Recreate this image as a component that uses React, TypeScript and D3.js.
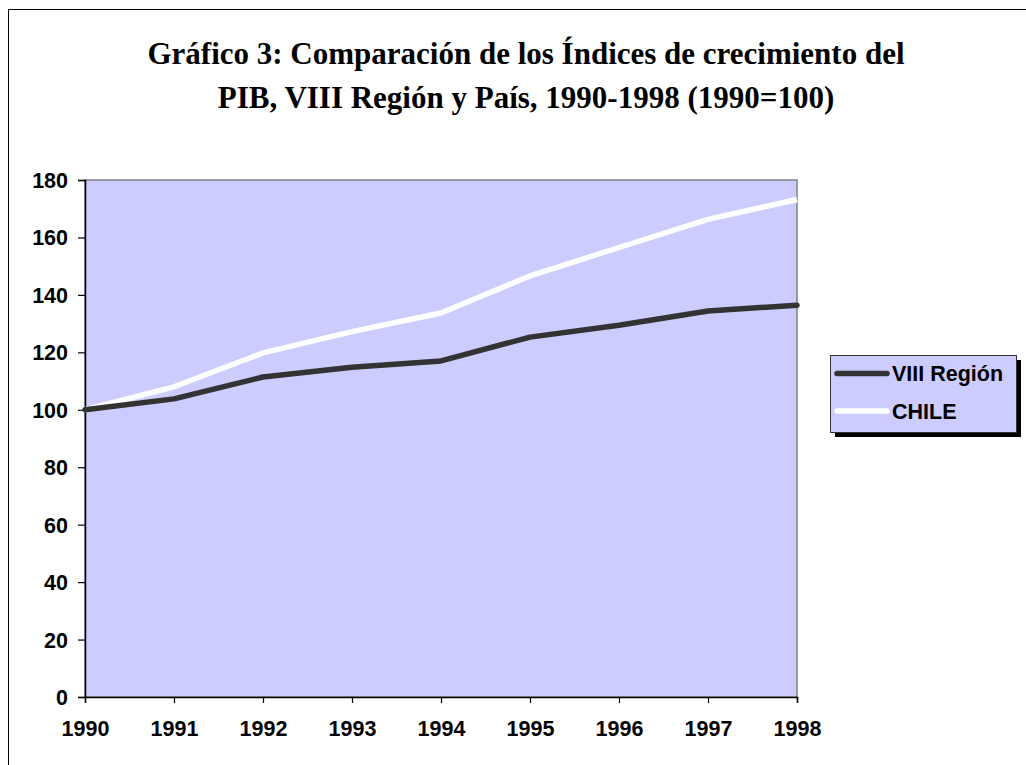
import React, { useRef, useEffect } from 'react';
import * as d3 from 'd3';

const years = [1990, 1991, 1992, 1993, 1994, 1995, 1996, 1997, 1998];
const regionValues = [100, 103.8, 111.4, 114.8, 117.0, 125.3, 129.4, 134.4, 136.4];
const chileValues = [100, 108.0, 119.8, 127.2, 133.7, 146.6, 156.5, 166.3, 173.2];
const yTicks = [0, 20, 40, 60, 80, 100, 120, 140, 160, 180];
const titleLines = [
  'Gráfico 3: Comparación de los Índices de crecimiento del',
  'PIB, VIII Región y País, 1990-1998 (1990=100)'
];
const seriesNames = ['VIII Región', 'CHILE'];
const seriesColors = ['#333333', '#ffffff'];

const draw = (svgRef) => {
  const svg = d3.select(svgRef.current);
  svg.selectAll('*').remove();

  const left = 85;
  const right = 797;
  const top = 180;
  const bottom = 697;
  const axisFont = 'Liberation Sans, Arial, sans-serif';
  const axisSize = 21.5;

  // outer frame of the chart object
  svg
    .append('rect')
    .attr('x', 8.5)
    .attr('y', 9.5)
    .attr('width', 1030)
    .attr('height', 780)
    .attr('fill', '#fff')
    .attr('stroke', '#000')
    .attr('stroke-width', 1);

  const title = svg
    .append('text')
    .attr('text-anchor', 'middle')
    .attr('font-family', 'Liberation Serif, Times New Roman, serif')
    .attr('font-weight', 'bold')
    .attr('font-size', 31)
    .attr('fill', '#000');
  titleLines.forEach((line, i) => {
    title
      .append('tspan')
      .attr('x', 526)
      .attr('y', 64 + i * 44)
      .text(line);
  });

  const x = d3.scalePoint().domain(years).range([left, right]);
  const y = d3.scaleLinear().domain([0, 180]).range([bottom, top]);

  svg
    .append('rect')
    .attr('x', left)
    .attr('y', top)
    .attr('width', right - left)
    .attr('height', bottom - top)
    .attr('fill', '#ccccff')
    .attr('stroke', '#808080')
    .attr('stroke-width', 1.5);

  const yAxis = svg
    .append('g')
    .attr('transform', `translate(${left},0)`)
    .call(d3.axisLeft(y).tickValues(yTicks).tickSize(7).tickPadding(10));
  const xAxis = svg
    .append('g')
    .attr('transform', `translate(0,${bottom})`)
    .call(d3.axisBottom(x).tickSize(6).tickPadding(18));

  [yAxis, xAxis].forEach((ax) => {
    ax.select('.domain').attr('stroke', '#000').attr('stroke-width', 1.5);
    ax.selectAll('.tick line').attr('stroke', '#000').attr('stroke-width', 1.2);
    ax.selectAll('.tick text')
      .attr('font-family', axisFont)
      .attr('font-weight', 'bold')
      .attr('font-size', axisSize)
      .attr('fill', '#000');
  });
  yAxis.selectAll('.tick text').attr('dy', '0.35em');
  xAxis.selectAll('.tick text').attr('dy', '0.71em');

  const line = d3
    .line()
    .x((d, i) => x(years[i]))
    .y((d) => y(d));

  [chileValues, regionValues].forEach((vals, k) => {
    const idx = k === 0 ? 1 : 0;
    svg
      .append('path')
      .datum(vals)
      .attr('d', line)
      .attr('fill', 'none')
      .attr('stroke', seriesColors[idx])
      .attr('stroke-width', 5.5)
      .attr('stroke-linejoin', 'round')
      .attr('stroke-linecap', idx === 0 ? 'round' : 'butt');
  });

  // legend
  const lg = svg.append('g').attr('transform', 'translate(830,355)');
  lg.append('rect')
    .attr('x', 5)
    .attr('y', 5)
    .attr('width', 186)
    .attr('height', 77)
    .attr('fill', '#000');
  lg.append('rect')
    .attr('x', 0.5)
    .attr('y', 0.5)
    .attr('width', 186)
    .attr('height', 77)
    .attr('fill', '#ccccff')
    .attr('stroke', '#333')
    .attr('stroke-width', 1);

  seriesNames.forEach((name, i) => {
    const cy = 18.5 + i * 37.5;
    lg.append('line')
      .attr('x1', 7)
      .attr('x2', 57)
      .attr('y1', cy)
      .attr('y2', cy)
      .attr('stroke', seriesColors[i])
      .attr('stroke-width', 5.5)
      .attr('stroke-linecap', 'round');
    lg.append('text')
      .attr('x', 62)
      .attr('y', cy)
      .attr('dy', '0.36em')
      .attr('font-family', axisFont)
      .attr('font-weight', 'bold')
      .attr('font-size', axisSize)
      .attr('fill', '#000')
      .text(name);
  });

  return svg.node();
};

export default function App() {
  const ref = useRef(null);

  useEffect(() => {
    if (ref.current) draw(ref);
  }, []);

  return (
    <svg
      ref={ref}
      width={1026}
      height={765}
      style={{ position: 'absolute', left: 0, top: 0, display: 'block' }}
    />
  );
}
